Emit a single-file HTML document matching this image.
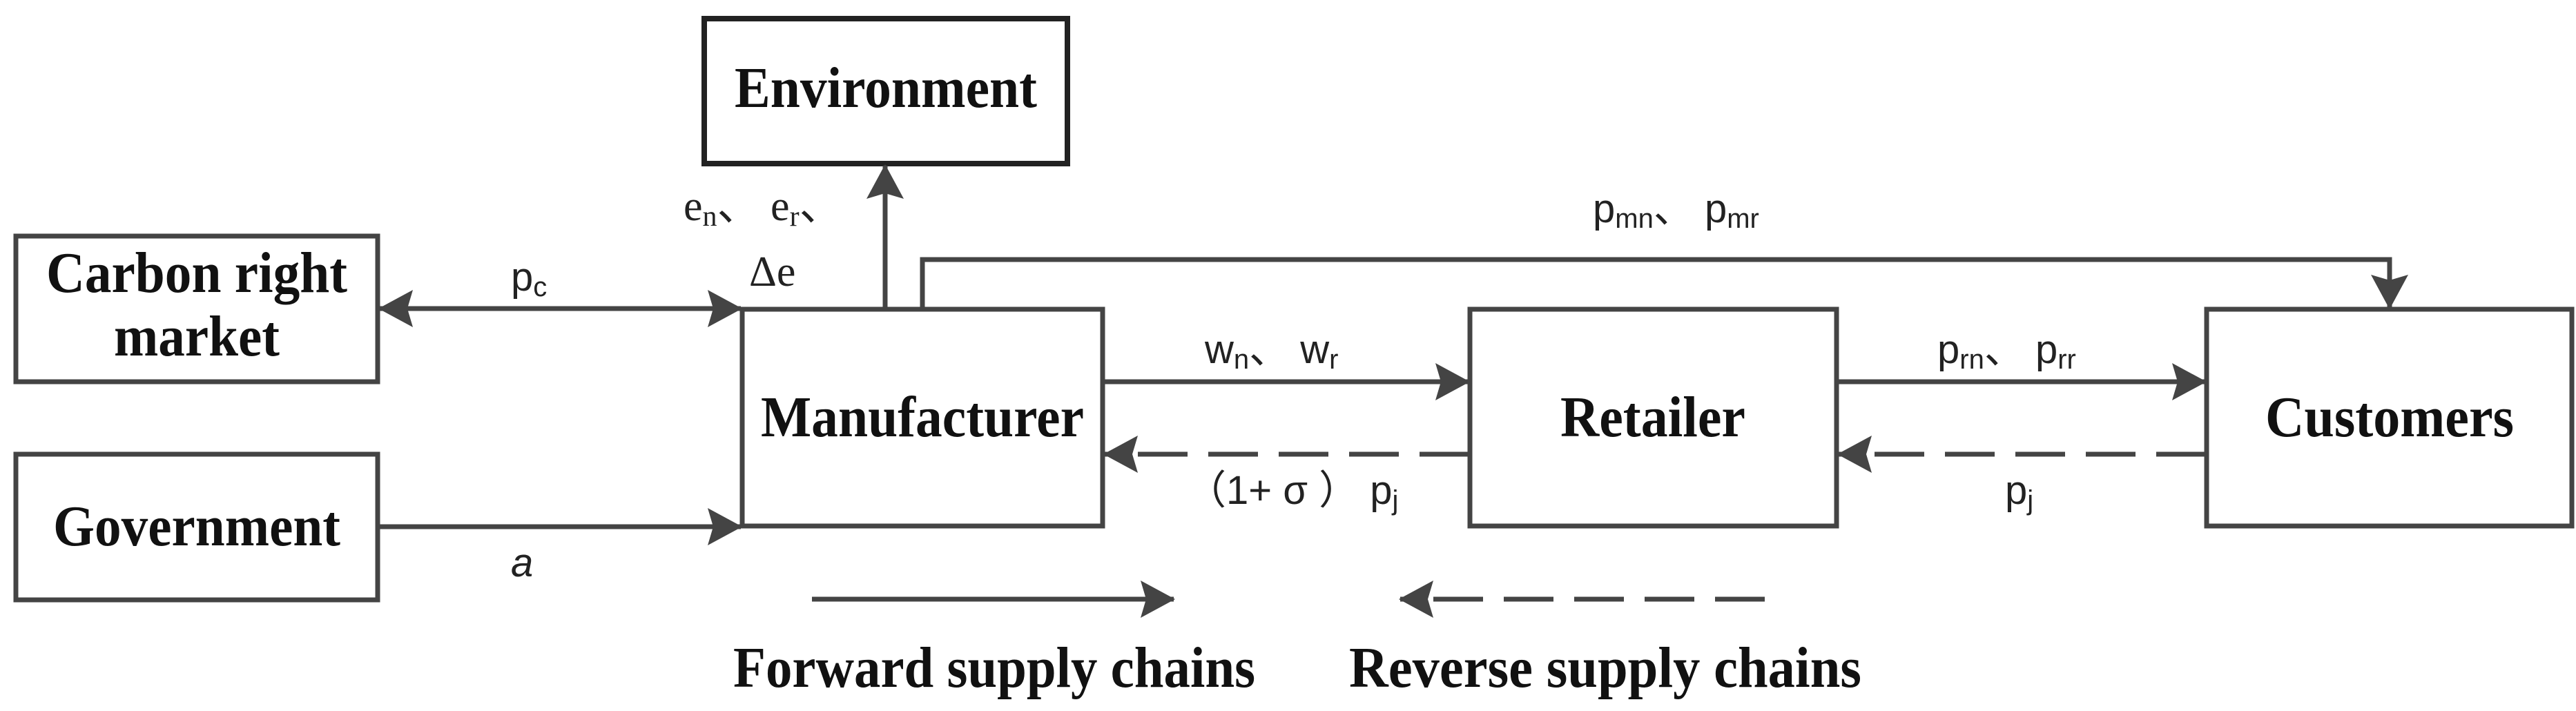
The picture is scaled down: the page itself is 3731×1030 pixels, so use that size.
<!DOCTYPE html>
<html><head><meta charset="utf-8"><style>html,body{margin:0;padding:0;background:#fff}svg{display:block}</style></head>
<body>
<svg width="3731" height="1030" viewBox="0 0 3731 1030" xmlns="http://www.w3.org/2000/svg">
<defs>
<marker id="ah" markerUnits="userSpaceOnUse" markerWidth="50" markerHeight="54" refX="48" refY="27" orient="auto">
<path d="M0,0 L50,27 L0,54 L8,27 Z" fill="#444"/>
</marker>
<marker id="ahs" markerUnits="userSpaceOnUse" markerWidth="50" markerHeight="54" refX="2" refY="27" orient="auto">
<path d="M50,0 L0,27 L50,54 L42,27 Z" fill="#444"/>
</marker>
</defs>
<g fill="#fff" stroke="#444" stroke-width="7">
<rect x="1020" y="27" width="526" height="210" stroke="#222" stroke-width="8"/>
<rect x="23" y="342" width="524" height="211"/>
<rect x="23" y="658" width="524" height="211"/>
<rect x="1075" y="448" width="522" height="314"/>
<rect x="2129" y="448" width="531" height="314"/>
<rect x="3196" y="448" width="529" height="314"/>
</g>
<g stroke="#444" stroke-width="7" fill="none">
<line x1="550" y1="447" x2="1073" y2="447" marker-end="url(#ah)" marker-start="url(#ahs)"/>
<line x1="550" y1="763" x2="1073" y2="763" marker-end="url(#ah)"/>
<line x1="1282" y1="447" x2="1282" y2="240" marker-end="url(#ah)"/>
<polyline points="1336,447 1336,376 3461,376 3461,446" marker-end="url(#ah)"/>
<line x1="1600" y1="553" x2="2127" y2="553" marker-end="url(#ah)"/>
<line x1="2662" y1="553" x2="3194" y2="553" marker-end="url(#ah)"/>
<line x1="2128" y1="658" x2="1600" y2="658" stroke-dasharray="72 30" marker-end="url(#ah)"/>
<line x1="3195" y1="658" x2="2663" y2="658" stroke-dasharray="72 30" marker-end="url(#ah)"/>
<line x1="1176" y1="868" x2="1700" y2="868" marker-end="url(#ah)"/>
<line x1="2556" y1="868" x2="2028" y2="868" stroke-dasharray="72 30" marker-end="url(#ah)"/>
</g>
<g font-family="Liberation Serif, serif" font-weight="bold" font-size="84" fill="#111" text-anchor="middle">
<text x="1283" y="155" textLength="438" lengthAdjust="spacingAndGlyphs">Environment</text>
<text x="285" y="423" textLength="436" lengthAdjust="spacingAndGlyphs">Carbon right</text>
<text x="285" y="515" textLength="240" lengthAdjust="spacingAndGlyphs">market</text>
<text x="285" y="790" textLength="416" lengthAdjust="spacingAndGlyphs">Government</text>
<text x="1336" y="632" textLength="468" lengthAdjust="spacingAndGlyphs">Manufacturer</text>
<text x="2394" y="632" textLength="268" lengthAdjust="spacingAndGlyphs">Retailer</text>
<text x="3461" y="632" textLength="360" lengthAdjust="spacingAndGlyphs">Customers</text>
<text x="1440" y="995" textLength="756" lengthAdjust="spacingAndGlyphs">Forward supply chains</text>
<text x="2325" y="995" textLength="742" lengthAdjust="spacingAndGlyphs">Reverse supply chains</text>
</g>
<g font-family="Liberation Sans, sans-serif" font-size="58" fill="#222">
<text x="740" y="421">p<tspan font-size="40" dy="8">c</tspan></text>
<text x="740" y="835" font-style="italic">a</text>
<text x="1745" y="526">w<tspan font-size="40" dy="8">n</tspan><tspan dy="-8">、 w</tspan><tspan font-size="40" dy="8">r</tspan></text>
<text x="1718" y="730">（1+ σ ） p<tspan font-size="40" dy="8">j</tspan></text>
<text x="2806" y="526">p<tspan font-size="40" dy="8">rn</tspan><tspan dy="-8">、 p</tspan><tspan font-size="40" dy="8">rr</tspan></text>
<text x="2904" y="730">p<tspan font-size="40" dy="8">j</tspan></text>
<text x="2307" y="322">p<tspan font-size="40" dy="8">mn</tspan><tspan dy="-8">、 p</tspan><tspan font-size="40" dy="8">mr</tspan></text>
</g>
<g font-family="Liberation Serif, serif" font-size="62" fill="#222">
<text x="990" y="319">e<tspan font-size="42" dy="8">n</tspan><tspan dy="-8">、 e</tspan><tspan font-size="42" dy="8">r</tspan><tspan dy="-8">、</tspan></text>
<text x="1085" y="414">Δe</text>
</g>
</svg>
</body></html>
